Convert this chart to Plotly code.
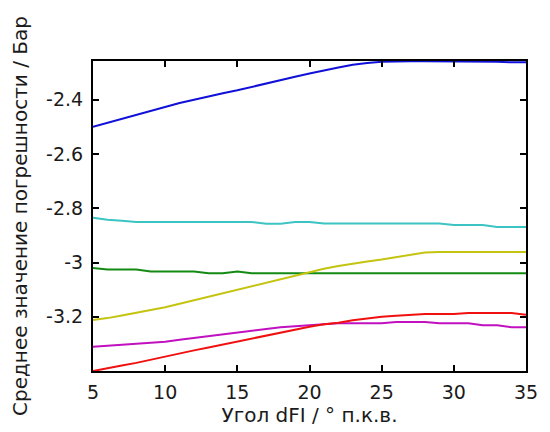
import plotly.graph_objects as go

x = list(range(5, 36))

blue = [-2.500, -2.485, -2.470, -2.455, -2.440, -2.426, -2.412, -2.400, -2.387, -2.376,
        -2.365, -2.352, -2.340, -2.327, -2.315, -2.303, -2.291, -2.281, -2.271, -2.264,
        -2.260, -2.258, -2.258, -2.258, -2.258, -2.258, -2.258, -2.258, -2.260, -2.262, -2.262]
cyan = [-2.835, -2.842, -2.846, -2.851, -2.851, -2.851, -2.851, -2.851, -2.851, -2.851,
        -2.851, -2.851, -2.857, -2.857, -2.851, -2.851, -2.856, -2.856, -2.856, -2.856,
        -2.856, -2.856, -2.856, -2.856, -2.856, -2.862, -2.862, -2.862, -2.869, -2.869, -2.869]
green = [-3.020, -3.026, -3.026, -3.026, -3.033, -3.033, -3.033, -3.033, -3.040, -3.040,
         -3.033, -3.040, -3.040, -3.040, -3.040, -3.040, -3.040, -3.040, -3.040, -3.040,
         -3.040, -3.040, -3.040, -3.040, -3.040, -3.040, -3.040, -3.040, -3.040, -3.040, -3.040]
yellow = [-3.212, -3.205, -3.195, -3.185, -3.175, -3.165, -3.152, -3.139, -3.126, -3.112,
          -3.099, -3.086, -3.073, -3.060, -3.048, -3.035, -3.023, -3.013, -3.004, -2.996,
          -2.989, -2.981, -2.972, -2.963, -2.961, -2.961, -2.961, -2.961, -2.961, -2.961, -2.961]
magenta = [-3.311, -3.307, -3.303, -3.300, -3.296, -3.292, -3.285, -3.278, -3.271, -3.265,
           -3.258, -3.252, -3.245, -3.239, -3.235, -3.231, -3.228, -3.224, -3.224, -3.224,
           -3.224, -3.219, -3.219, -3.219, -3.224, -3.224, -3.224, -3.231, -3.231, -3.239, -3.239]
red = [-3.400, -3.391, -3.380, -3.370, -3.358, -3.346, -3.335, -3.324, -3.313, -3.302,
       -3.291, -3.280, -3.269, -3.258, -3.248, -3.237, -3.228, -3.222, -3.213, -3.206,
       -3.200, -3.196, -3.193, -3.190, -3.190, -3.190, -3.186, -3.186, -3.186, -3.186, -3.193]

series = [
    ("blue", blue, "#1010d8"),
    ("cyan", cyan, "#3cc4c4"),
    ("green", green, "#138a13"),
    ("yellow", yellow, "#c4c410"),
    ("magenta", magenta, "#c010c0"),
    ("red", red, "#f01010"),
]

x_ticks = [5, 10, 15, 20, 25, 30, 35]
x_ticktext = ["5", "10", "15", "20", "25", "30", "35"]
y_ticks = [-3.2, -3.0, -2.8, -2.6, -2.4]
y_ticktext = ["-3.2", "-3", "-2.8", "-2.6", "-2.4"]

fig = go.Figure()
for name, vals, col in series:
    fig.add_trace(go.Scatter(x=x, y=vals, mode="lines", name=name,
                             line=dict(color=col, width=2), showlegend=False))

font = dict(family="DejaVu Sans, sans-serif", size=19, color="#1a1a1a")
title_font = dict(family="DejaVu Sans, sans-serif", size=20, color="#1a1a1a")

fig.update_layout(
    width=550, height=432,
    margin=dict(l=93, r=12, t=61, b=59),
    paper_bgcolor="white", plot_bgcolor="white",
    font=font,
    showlegend=False,
)
fig.update_xaxes(
    range=[5, 35], tickvals=x_ticks, ticktext=x_ticktext,
    showgrid=False, zeroline=False,
    showline=True, linecolor="black", linewidth=2, mirror="ticks",
    ticks="inside", ticklen=6, tickwidth=2, tickcolor="black",
    ticklabelstandoff=3,
    title=dict(text="Угол dFI / ° п.к.в.", font=title_font, standoff=3),
)
fig.update_yaxes(
    range=[-3.4, -2.257], tickvals=y_ticks, ticktext=y_ticktext,
    showgrid=False, zeroline=False,
    showline=True, linecolor="black", linewidth=2, mirror="ticks",
    ticks="inside", ticklen=6, tickwidth=2, tickcolor="black",
    ticklabelstandoff=4,
    title=dict(text="Среднее значение погрешности / Бар", font=title_font, standoff=13),
)

fig.write_html("out.html")
